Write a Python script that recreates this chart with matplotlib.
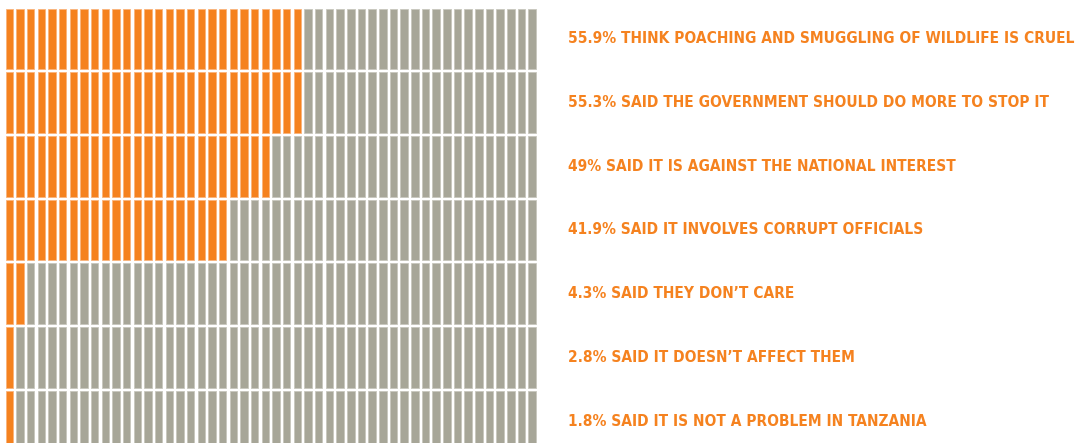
import matplotlib.pyplot as plt

labels = [
    "55.9% THINK POACHING AND SMUGGLING OF WILDLIFE IS CRUEL",
    "55.3% SAID THE GOVERNMENT SHOULD DO MORE TO STOP IT",
    "49% SAID IT IS AGAINST THE NATIONAL INTEREST",
    "41.9% SAID IT INVOLVES CORRUPT OFFICIALS",
    "4.3% SAID THEY DON\u2019T CARE",
    "2.8% SAID IT DOESN\u2019T AFFECT THEM",
    "1.8% SAID IT IS NOT A PROBLEM IN TANZANIA",
]
percent = [55.9, 55.3, 49, 41.9, 4.3, 2.8, 1.8]
n_cols = 50  # each cell = 2%

orange = "#F5821F"
orange_edge = "#F9B47C"
grey = "#A7A698"
grey_edge = "#C8C7BD"

fig = plt.figure(figsize=(10.8, 4.43), dpi=100)
W, H = 1080, 443
pitch = 63.7
top = 7
ax = fig.add_axes([4 / W, 1 - (top + 7 * pitch) / H, 533.5 / W, 7 * pitch / H])
ax.set_xlim(0, n_cols)
ax.set_ylim(7, 0)
ax.axis("off")

cols = list(range(n_cols))
texts = []
for i, p in enumerate(percent):
    n_on = max(1, round(p / 2 + 0.01))
    colors = [orange if c < n_on else grey for c in cols]
    edges = [orange_edge if c < n_on else grey_edge for c in cols]
    ax.bar([c + 0.5 for c in cols], 0.95, bottom=i + 0.025, width=0.70,
           color=colors, edgecolor=edges, linewidth=0.6, clip_on=False)
    t = ax.text(52.9, i + 0.5, labels[i], color=orange, fontsize=12,
                fontweight="bold", family="DejaVu Sans", fontstretch="condensed",
                va="center", ha="left", clip_on=False)
    texts.append(t)

# fit the longest label to the width it has in the original
r = fig.canvas.get_renderer()
w0 = texts[0].get_window_extent(r).width
for t in texts:
    t.set_fontsize(12 * 508 / w0)

fig.savefig("out.png", dpi=100)
